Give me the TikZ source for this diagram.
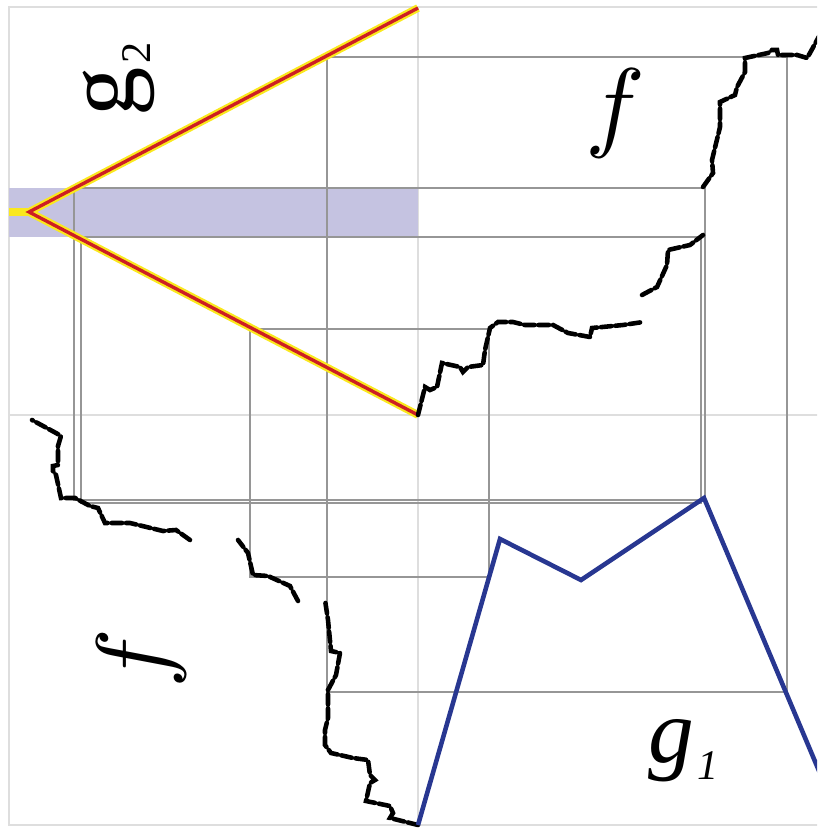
\documentclass[tikz,border=0pt]{standalone}
\usepackage{graphicx}
\usepackage{fontspec}
\setmainfont{Liberation Serif}

\definecolor{bandblue}{RGB}{197,195,225}
\definecolor{gyellow}{RGB}{250,232,30}
\definecolor{gred}{RGB}{205,30,35}
\definecolor{gblue}{RGB}{40,55,145}
\definecolor{gridgray}{RGB}{222,222,222}
\definecolor{boxgray}{RGB}{150,150,150}

% the staircase f, in (input, output) units
\newcommand\fpath{(0,0) -- (7,28) -- (12,25) -- (19,28) -- (24,52) -- (42,48) -- (45,43) -- (50,48) -- (65,50) -- (67,65) -- (72,87) -- (80,93) -- (95,93) -- (107,90) -- (135,90) -- (150,82) -- (172,78) -- (174,87) -- (205,90) -- (225,93)
  (224,120) -- (239,128) -- (249,150) -- (250,165) -- (272,170) -- (285,180)
  (285,228) -- (295,242) -- (294,255) -- (302,288) -- (302,313) -- (317,320) -- (319,328) -- (327,343) -- (327,357) -- (350,362) -- (354,365) -- (359,365) -- (360,360) -- (379,360) -- (389,357) -- (392,362) -- (405,386)}
\newcommand\gsub[1]{\kern1pt\lower5pt\hbox{\fontsize{12}{12}\selectfont #1}}

\begin{document}
\begin{tikzpicture}[x=0.01cm, y=-0.01cm,
  gridline/.style={gridgray, line width=0.45pt},
  boxline/.style={boxgray, line width=0.4pt},
  fstep/.style={line width=1.3pt, line cap=round, dash pattern=on 3pt off 1.1pt},
  glow/.style={gyellow, line width=2.2pt},
  redline/.style={gred, line width=0.95pt},
  lab/.style={inner sep=0pt, anchor=base west, font=\fontsize{26}{26}\selectfont}]

  \useasboundingbox (0,0) rectangle (817,828);
  \clip (0,0) rectangle (817,828);

  % frame and axes
  \draw[gridline] (9,7) rectangle (840,825);
  \draw[gridline] (418,7) -- (418,825);
  \draw[gridline] (9,415) -- (840,415);

  % band
  \fill[bandblue] (9,188) rectangle (418,237);

  % gray boxes
  \draw[boxline] (327,57) rectangle (787,692);
  \draw[boxline] (74,188) rectangle (705,500);
  \draw[boxline] (81,237) rectangle (701,503);
  \draw[boxline] (250,329) rectangle (489,577);

  % g2
  \coordinate (apex) at (29,212);
  \coordinate (gtop) at (418,8);
  \coordinate (gbot) at (418,415);
  \draw[gyellow, line width=2.4pt] (9,212) -- (apex);
  \draw[glow] (gtop) -- (apex) -- (gbot);
  \draw[redline] (gtop) -- (apex) -- (gbot);

  % f, upper right and turned copy lower left
  \begin{scope}[shift={(418,415)}, x={(0.01cm,0cm)}, y={(0cm,0.01cm)}]
    \draw[fstep] \fpath;
  \end{scope}
  \begin{scope}[shift={(418,825)}, x={(0cm,0.01cm)}, y={(-0.01cm,0cm)}]
    \draw[fstep] \fpath;
  \end{scope}

  % g1
  \draw[gblue, line width=1.3pt] (418,825) -- (500,539) -- (581,580) -- (704,498) -- (830,797);

  % labels
  \node[inner sep=0pt] (fa) at (615,113) {\scalebox{2.85}{$f$}};
  \node[inner sep=0pt, rotate=90] (fb) at (141,659) {\scalebox{2.85}{$f$}};
  \node[lab] (ga) at (648,762) {\itshape g\gsub{1}};
  \node[lab, font=\fontsize{28}{28}\selectfont, rotate=90] (gb) at (133,117) {g\gsub{2}};
\end{tikzpicture}
\end{document}
